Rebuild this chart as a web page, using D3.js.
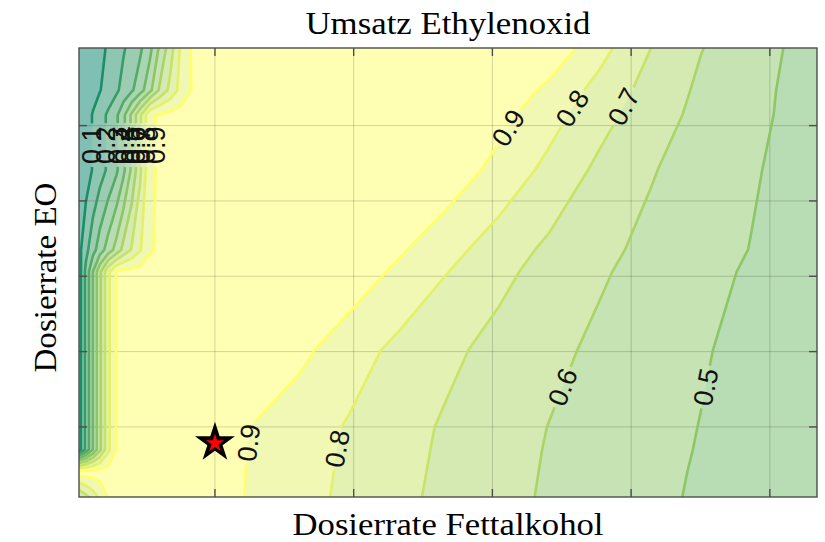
<!DOCTYPE html>
<html><head><meta charset="utf-8">
<script src="https://cdn.jsdelivr.net/npm/d3@7"></script>
<style>body{margin:0;background:#fff}</style>
</head><body>
<svg id="chart" width="825" height="542" xmlns="http://www.w3.org/2000/svg"></svg>
<script>
// ---------- data ----------
const xCols = [0.02,0.07,0.12,0.17,0.23,0.29,0.34,0.40,0.46,0.53,0.60,0.68,0.75,0.83,1.00,1.25,1.61,1.97,2.33,2.69,3.05,3.41,3.77,4.14,4.50,4.86,5.34];
const yRows = [6.03,5.47,5.14,4.41,3.35,3.06,2.02,1.00,0.70,0.40,0.07];
const zRow603 = [0.00,0.026,0.052,0.078,0.11,0.15,0.19,0.235,0.282,0.37,0.514,0.657,0.808,0.905,0.94,0.94,0.94,0.94,0.94,0.94,0.94,0.975,0.836,0.701,0.604,0.541,0.458];
const zRow547 = [0.00,0.032,0.064,0.095,0.139,0.183,0.233,0.287,0.355,0.471,0.612,0.733,0.829,0.901,0.94,0.94,0.94,0.94,0.94,0.94,0.979,0.875,0.767,0.663,0.584,0.529,0.454];
const zRow514 = [0.00,0.054,0.107,0.157,0.217,0.283,0.375,0.52,0.68,0.88,0.914,0.93,0.94,0.94,0.94,0.94,0.94,0.94,0.94,0.94,0.932,0.838,0.736,0.644,0.575,0.524,0.455];
const zRow441 = [0.00,0.054,0.107,0.157,0.217,0.283,0.375,0.52,0.68,0.88,0.914,0.93,0.94,0.94,0.94,0.94,0.94,0.94,0.94,0.958,0.867,0.773,0.679,0.607,0.558,0.511,0.449];
const zRow335 = [0.07,0.171,0.263,0.35,0.444,0.538,0.63,0.71,0.79,0.89,0.914,0.93,0.94,0.94,0.94,0.94,0.94,0.94,0.913,0.83,0.75,0.68,0.623,0.577,0.538,0.498,0.446];
const zRow306 = [0.05,0.225,0.40,0.575,0.775,0.907,0.927,0.94,0.94,0.94,0.94,0.94,0.94,0.94,0.94,0.94,0.94,0.96,0.879,0.799,0.724,0.664,0.611,0.568,0.529,0.489,0.436];
const zRow202 = [0.05,0.225,0.40,0.575,0.775,0.907,0.927,0.94,0.94,0.94,0.94,0.94,0.94,0.94,0.94,0.94,0.924,0.844,0.774,0.719,0.669,0.623,0.582,0.546,0.509,0.473,0.425];
const zRow100 = [0.05,0.225,0.40,0.575,0.775,0.907,0.927,0.94,0.94,0.94,0.94,0.94,0.94,0.94,0.94,0.901,0.846,0.791,0.736,0.685,0.641,0.598,0.565,0.531,0.498,0.465,0.42];
const zRow070 = [0.05,0.225,0.40,0.575,0.775,0.907,0.927,0.94,0.94,0.94,0.94,0.94,0.94,0.94,0.937,0.898,0.842,0.786,0.731,0.681,0.636,0.594,0.561,0.528,0.495,0.462,0.417];
const zRow040 = [0.95,0.95,0.95,0.95,0.95,0.95,0.95,0.95,0.95,0.95,0.95,0.95,0.95,0.95,0.935,0.895,0.839,0.782,0.727,0.677,0.633,0.591,0.558,0.525,0.491,0.458,0.413];
const zRow007 = [0.60,0.672,0.745,0.817,0.905,0.93,0.94,0.94,0.94,0.94,0.94,0.94,0.94,0.94,0.935,0.894,0.835,0.778,0.722,0.673,0.629,0.588,0.555,0.521,0.488,0.455,0.41];
const zRows = [zRow603,zRow547,zRow514,zRow441,zRow335,zRow306,zRow202,zRow100,zRow070,zRow040,zRow007];
const levels = [0.1,0.2,0.3,0.4,0.5,0.6,0.7,0.8,0.9];
const levelText = ["0.1","0.2","0.3","0.4","0.5","0.6","0.7","0.8","0.9"];
const xTicks = [1,2,3,4,5];
const yTicks = [1,2,3,4,5];
const xDomain = [0.02,5.34];
const yDomain = [0.07,6.03];
const colorDomain = [0,0.9];
const optX = [1.0];
const optY = [0.79];
// label anchors (level, EO rate, which side of x=1)
const labelSpots = [
  {level:0.1,y:4.74,side:"L"},{level:0.2,y:4.74,side:"L"},{level:0.3,y:4.74,side:"L"},
  {level:0.4,y:4.74,side:"L"},{level:0.5,y:4.74,side:"L"},{level:0.6,y:4.74,side:"L"},
  {level:0.7,y:4.74,side:"L"},{level:0.8,y:4.74,side:"L"},{level:0.9,y:4.74,side:"L"},
  {level:0.9,y:4.97,side:"R"},{level:0.8,y:5.23,side:"R"},{level:0.7,y:5.25,side:"R"},
  {level:0.9,y:0.79,side:"R"},{level:0.8,y:0.71,side:"R"},
  {level:0.6,y:1.53,side:"R"},{level:0.5,y:1.53,side:"R"}
];
const titleText = "Umsatz Ethylenoxid";
const xLabelText = "Dosierrate Fettalkohol";
const yLabelText = "Dosierrate EO";

// ---------- layout ----------
const plot = {l:79, r:817, t:48, b:497};
const svg = d3.select("#chart");
const x = d3.scaleLinear().domain(xDomain).range([plot.l, plot.r]);
const y = d3.scaleLinear().domain(yDomain).range([plot.b, plot.t]);

const summer = t => { t = Math.max(0, Math.min(1, t)); return d3.rgb(255*t, 255*(0.5+0.5*t), 102); };
const cNorm = v => (v - colorDomain[0]) / (colorDomain[1] - colorDomain[0]);
const fillAlpha = 0.5;
const band = v => { const c = summer(cNorm(v)); return d3.rgb(255-(255-c.r)*fillAlpha, 255-(255-c.g)*fillAlpha, 255-(255-c.b)*fillAlpha).formatHex(); };

// padded grid
const nx = xCols.length + 2, ny = yRows.length + 2;
const values = new Array(nx*ny);
for (let j=0;j<ny;j++){
  const jr = Math.min(Math.max(j-1,0), yRows.length-1);
  for (let i=0;i<nx;i++){
    const ir = Math.min(Math.max(i-1,0), xCols.length-1);
    values[j*nx+i] = zRows[jr][ir];
  }
}
const pad = 14;
const xp = xCols.map(v => x(v));
const yp = yRows.map(v => y(v));
const xPx = [xp[0] - pad, ...xp, xp[xp.length-1] + pad];
const yPx = [yp[0] + Math.sign(yp[0]-yp[1])*pad, ...yp, yp[yp.length-1] + Math.sign(yp[yp.length-1]-yp[yp.length-2])*pad];
const xIdx = d3.scaleLinear().domain(d3.range(nx)).range(xPx);
const yIdx = d3.scaleLinear().domain(d3.range(ny)).range(yPx);

const contours = d3.contours().size([nx, ny]).thresholds(levels)(values);
const geoms = contours.map(g => ({
  type: g.type, value: g.value,
  coordinates: g.coordinates.map(poly => poly.map(ring => ring.map(([c0,c1]) => [xIdx(c0-0.5), yIdx(c1-0.5)])))
}));
const path = d3.geoPath(null);

const defs = svg.append("defs");
defs.append("clipPath").attr("id","plotClip").append("rect")
  .attr("x",plot.l).attr("y",plot.t).attr("width",plot.r-plot.l).attr("height",plot.b-plot.t);

// fills
const fills = svg.append("g").attr("clip-path","url(#plotClip)");
fills.append("rect").attr("x",plot.l).attr("y",plot.t).attr("width",plot.r-plot.l).attr("height",plot.b-plot.t)
  .attr("fill", band(colorDomain[0]));
fills.selectAll("path.band").data(geoms).join("path").attr("class","band")
  .attr("d", path).attr("fill", d => band(d.value)).attr("fill-rule","evenodd").attr("stroke","none");

// grid
const grid = svg.append("g").attr("stroke","#000").attr("stroke-opacity",0.17).attr("stroke-width",1);
grid.selectAll("line.gx").data(xTicks).join("line").attr("class","gx")
  .attr("x1",d=>x(d)).attr("x2",d=>x(d)).attr("y1",plot.t).attr("y2",plot.b);
grid.selectAll("line.gy").data(yTicks).join("line").attr("class","gy")
  .attr("y1",d=>y(d)).attr("y2",d=>y(d)).attr("x1",plot.l).attr("x2",plot.r);

// label positions from the contour geometry
function findSpot(geom, yPix, side){
  let best = null;
  const xm = x(1.0);
  geom.coordinates.forEach(poly => poly.forEach(ring => {
    for (let k=0;k<ring.length-1;k++){
      const [x1,y1] = ring[k], [x2,y2] = ring[k+1];
      if (y1 === y2) continue;
      if ((y1-yPix)*(y2-yPix) > 0) continue;
      const t = (yPix-y1)/(y2-y1);
      const xx = x1 + t*(x2-x1);
      if (xx <= plot.l || xx >= plot.r) continue;
      if (side === "L" ? xx > xm : xx < xm) continue;
      best = {x:xx, y:yPix, dx:x2-x1, dy:y2-y1};
    }
  }));
  return best;
}
const labelData = [];
labelSpots.forEach(s => {
  const gi = levels.indexOf(s.level);
  const sp = findSpot(geoms[gi], y(s.y), s.side);
  if (!sp) return;
  let ang = Math.atan2(sp.dy, sp.dx) * 180 / Math.PI;
  while (ang >= 90) ang -= 180;
  while (ang < -90) ang += 180;
  labelData.push({x:sp.x, y:sp.y, ang, text: levelText[gi]});
});

const labelFont = 27;
const mask = defs.append("mask").attr("id","lblMask").attr("maskUnits","userSpaceOnUse")
  .attr("x",0).attr("y",0).attr("width",825).attr("height",542);
mask.append("rect").attr("x",0).attr("y",0).attr("width",825).attr("height",542).attr("fill","#fff");

// contour lines
const linesOuter = svg.append("g").attr("mask","url(#lblMask)");
const lines = linesOuter.append("g").attr("clip-path","url(#plotClip)");
lines.selectAll("path.iso").data(geoms).join("path").attr("class","iso")
  .attr("d", path).attr("fill","none")
  .attr("stroke", d => summer(cNorm(d.value)).formatHex())
  .attr("stroke-width", 2.6).attr("stroke-linejoin","round");

// labels
const lbl = svg.append("g").attr("font-family","'Liberation Sans', Arial, sans-serif")
  .attr("font-size", labelFont).attr("fill","#111");
lbl.selectAll("text").data(labelData).join("text")
  .attr("transform", d => `translate(${d.x},${d.y}) rotate(${d.ang})`)
  .attr("text-anchor","middle").attr("dy","0.35em").text(d => d.text)
  .each(function(d){
    const bb = this.getBBox();
    mask.append("rect").attr("x", bb.x-3).attr("y", bb.y+2).attr("width", bb.width+6).attr("height", bb.height-4)
      .attr("transform", `translate(${d.x},${d.y}) rotate(${d.ang})`).attr("fill","#000");
  });

// optimum marker
const ka = 0.8908130915292852;
const starG = svg.append("g");
starG.selectAll("path.so").data(optX.map((v,i)=>[v,optY[i]])).join("path").attr("class","so")
  .attr("transform", d => `translate(${x(d[0])},${y(d[1])})`)
  .attr("d", d3.symbol(d3.symbolStar, 21*21/ka)()).attr("fill","#000");
starG.selectAll("path.si").data(optX.map((v,i)=>[v,optY[i]])).join("path").attr("class","si")
  .attr("transform", d => `translate(${x(d[0])},${y(d[1])+0.5})`)
  .attr("d", d3.symbol(d3.symbolStar, 9.5*9.5/ka)()).attr("fill","#ff0000");

// axes box and ticks
const axc = "#4d4d4d", tl = 8;
const ax = svg.append("g").attr("stroke",axc).attr("stroke-width",1.4);
ax.append("rect").attr("x",plot.l).attr("y",plot.t).attr("width",plot.r-plot.l).attr("height",plot.b-plot.t).attr("fill","none");
xTicks.forEach(v => {
  ax.append("line").attr("x1",x(v)).attr("x2",x(v)).attr("y1",plot.b).attr("y2",plot.b-tl);
  ax.append("line").attr("x1",x(v)).attr("x2",x(v)).attr("y1",plot.t).attr("y2",plot.t+tl);
});
yTicks.forEach(v => {
  ax.append("line").attr("y1",y(v)).attr("y2",y(v)).attr("x1",plot.l).attr("x2",plot.l+tl);
  ax.append("line").attr("y1",y(v)).attr("y2",y(v)).attr("x1",plot.r).attr("x2",plot.r-tl);
});

// titles
const serif = "'Liberation Serif','Times New Roman',serif";
svg.append("text").attr("x",(plot.l+plot.r)/2).attr("y",34).attr("text-anchor","middle")
  .attr("font-family",serif).attr("font-size",31).attr("fill","#000")
  .attr("textLength",285).attr("lengthAdjust","spacingAndGlyphs").text(titleText);
svg.append("text").attr("x",(plot.l+plot.r)/2).attr("y",535).attr("text-anchor","middle")
  .attr("font-family",serif).attr("font-size",31).attr("fill","#000")
  .attr("textLength",311).attr("lengthAdjust","spacingAndGlyphs").text(xLabelText);
svg.append("text").attr("transform",`translate(56,${(plot.t+plot.b)/2+5}) rotate(-90)`).attr("text-anchor","middle")
  .attr("font-family",serif).attr("font-size",31).attr("fill","#000")
  .attr("textLength",190).attr("lengthAdjust","spacingAndGlyphs").text(yLabelText);
</script>
</body></html>
